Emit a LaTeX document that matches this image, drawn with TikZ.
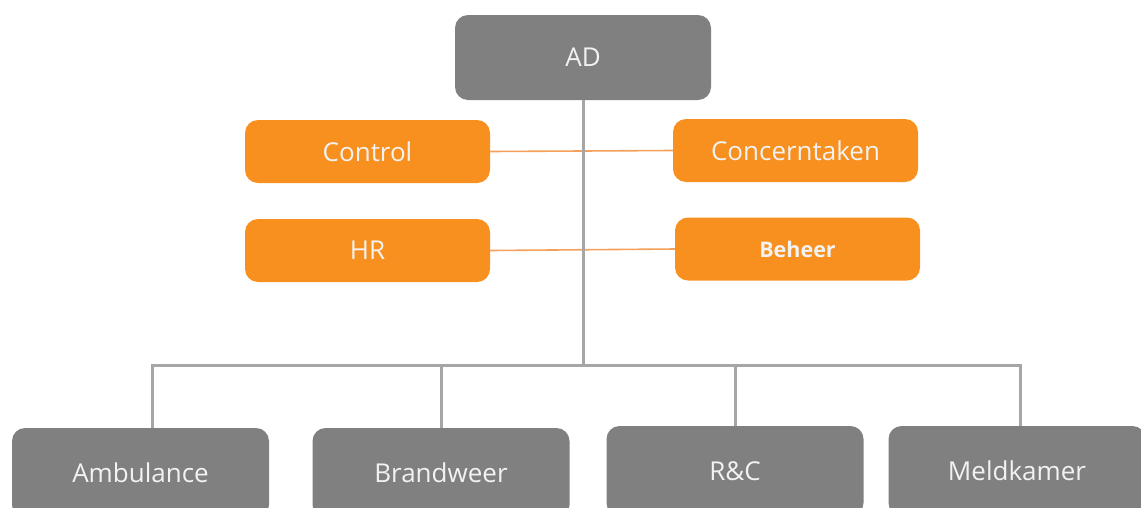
\documentclass[tikz,border=0pt]{standalone}
\usepackage{fontspec}
\setmainfont{Open Sans}
\usetikzlibrary{positioning,calc}
\definecolor{boxgrey}{HTML}{808080}
\definecolor{boxorange}{HTML}{F7901E}
\definecolor{linegrey}{HTML}{A6A6A6}
\definecolor{lineorange}{HTML}{F4A05A}
\definecolor{txtwhite}{HTML}{F2F2F2}
\begin{document}
\begin{tikzpicture}
   [x=1pt,y=-1pt,
	unit/.style={rectangle,rounded corners=13pt,inner sep=0pt,
	 text=txtwhite,font=\fontsize{26}{30}\selectfont},
	greybox/.style={unit,fill=boxgrey,minimum width=257pt,minimum height=90pt},
	staff/.style={unit,fill=boxorange,minimum width=245pt,minimum height=63pt},
	conn/.style={draw=linegrey,line width=3pt},
	oconn/.style={draw=lineorange,line width=1.6pt}]
\useasboundingbox (0,0) rectangle (1141,507);
% top
\node [greybox,minimum width=256pt,minimum height=85pt] (ad) at (583,57.5) {AD};
% staff
\node [staff] (ctrl) at (367.5,151.5) {Control};
\node [staff] (conc) at (795.5,150.5) {Concerntaken};
\node [staff] (hr) at (367.5,250.5) {HR};
\node [staff,font=\bfseries\fontsize{21.5}{25}\selectfont] (beh) at (797.5,249) {Beheer};
% sectors
\node [greybox] (amb) at (140.5,473) {Ambulance};
\node [greybox] (brw) at (441,473) {Brandweer};
\node [greybox] (rc) at (735,471) {R\&C};
\node [greybox] (mk) at (1017,471) {Meldkamer};
% lines
\coordinate (hub) at (583,365);
\coordinate (bl) at (152,365);
\coordinate (br) at (1020,365);
\draw [oconn] (ctrl.east) -- (conc.west);
\draw [oconn] (hr.east) -- (beh.west);
\draw [conn] (ad.south) -- (hub);
\draw [conn] ($(bl)+(-1.5,0)$) -- ($(br)+(1.5,0)$);
\draw [conn] (bl) -- (bl |- amb.north);
\draw [conn] (brw.north |- hub) -- (brw.north);
\draw [conn] (rc.north |- hub) -- (rc.north);
\draw [conn] (br) -- (br |- mk.north);
\end{tikzpicture}
\end{document}
